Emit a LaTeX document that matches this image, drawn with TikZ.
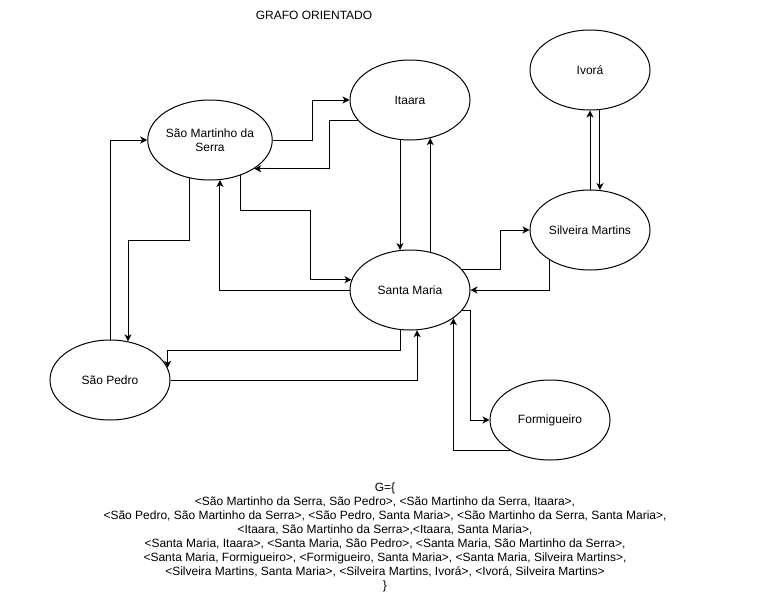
\documentclass[tikz,border=0pt]{standalone}
\usepackage{fontspec}
\setmainfont{Liberation Sans}
\usetikzlibrary{shapes.geometric,arrows.meta}

\begin{document}
\begin{tikzpicture}[x=1pt,y=-1pt,line width=1pt,
  font=\fontsize{12}{14}\selectfont,
  city/.style={ellipse,draw,minimum width=120pt,minimum height=80pt,inner sep=0pt,align=center},
  link/.style={-{Stealth[length=7pt,width=7pt,inset=2pt]}}]
\useasboundingbox (0,0) rectangle (771,611);

\node (title) at (314,15) {GRAFO ORIENTADO};

\node[city] (sms) at (210,140) {São Martinho da\\Serra};
\node[city] (ita) at (410,100) {Itaara};
\node[city] (sm) at (410,290) {Santa Maria};
\node[city] (sp) at (110,380) {São Pedro};
\node[city] (ivo) at (590,70) {Ivorá};
\node[city] (silm) at (590,230) {Silveira Martins};
\node[city] (form) at (550,420) {Formigueiro};

\draw[link] (sms.-118) -- ++(0,62) -| (sp.65);
\draw[link] (sp.north) |- (sms.west);
\draw[link] (sms.east) -- ++(40,0) |- (ita.west);
\draw[link] (ita.-159) -- ++(-28,0) |- (sms.-33);

\draw[link] (ita.-104) -- (sm.104);
\draw[link] (sm.62) -- (ita.-62);

\draw[link] (sms.-49) |- ++(70,35) |- (sm.170);
\draw[link] (sm.west) -| (sms.-76);

\draw[link] (sm.-104) -- ++(0,21) -| (sp.12);
\draw[link] (sp.east) -| (sm.-80);

\draw[link] (sm.21) -- ++(38,0) |- (silm.west);
\draw[link] (silm.-143) |- (sm.east);

\draw[link] (silm.north) -- (ivo.south);
\draw[link] (ivo.-76) -- (silm.76);

\draw[link] (sm.-21) -- ++(8,0) |- (form.west);
\draw[link] (form.-143) -| (sm.-33);

\node[align=center] (set) at (385,537) {G=\{\\
<São Martinho da Serra, São Pedro>, <São Martinho da Serra, Itaara>,\\
<São Pedro, São Martinho da Serra>, <São Pedro, Santa Maria>, <São Martinho da Serra, Santa Maria>,\\
<Itaara, São Martinho da Serra>,<Itaara, Santa Maria>,\\
<Santa Maria, Itaara>, <Santa Maria, São Pedro>, <Santa Maria, São Martinho da Serra>,\\
<Santa Maria, Formigueiro>, <Formigueiro, Santa Maria>, <Santa Maria, Silveira Martins>,\\
<Silveira Martins, Santa Maria>, <Silveira Martins, Ivorá>, <Ivorá, Silveira Martins>\\
\}};
\end{tikzpicture}
\end{document}
